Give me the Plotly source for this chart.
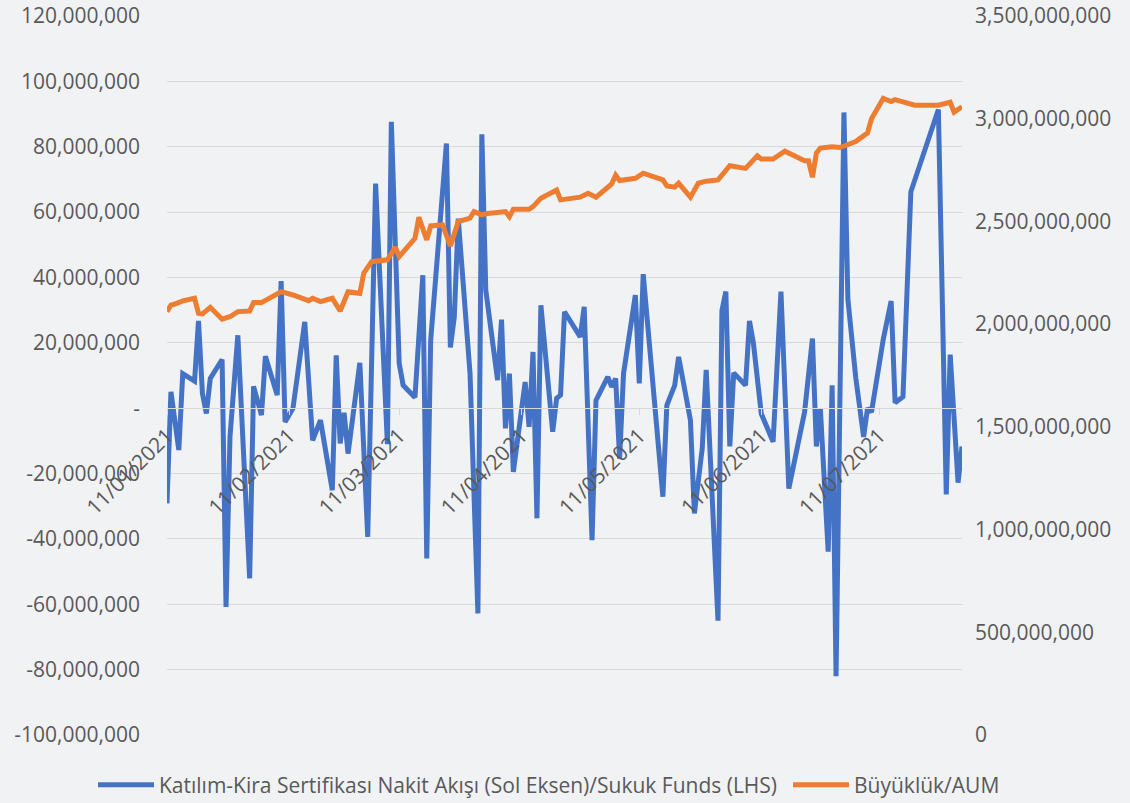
import plotly.graph_objects as go

# daily net flow of participation / sukuk funds (left axis)
flow_dates = [
    '2021-01-11', '2021-01-12', '2021-01-14', '2021-01-15', '2021-01-18', '2021-01-19', '2021-01-20',
    '2021-01-21', '2021-01-22', '2021-01-25', '2021-01-26', '2021-01-27', '2021-01-29',
    '2021-02-01', '2021-02-02', '2021-02-04', '2021-02-05', '2021-02-08', '2021-02-09', '2021-02-10',
    '2021-02-12', '2021-02-15', '2021-02-17', '2021-02-19', '2021-02-22', '2021-02-23', '2021-02-24',
    '2021-02-25', '2021-02-26',
    '2021-03-01', '2021-03-03', '2021-03-05', '2021-03-08', '2021-03-09', '2021-03-11', '2021-03-12',
    '2021-03-15', '2021-03-17', '2021-03-18', '2021-03-19', '2021-03-23', '2021-03-24', '2021-03-25',
    '2021-03-26', '2021-03-29', '2021-03-31',
    '2021-04-01', '2021-04-02', '2021-04-05', '2021-04-06', '2021-04-07', '2021-04-08', '2021-04-09',
    '2021-04-12', '2021-04-13', '2021-04-14', '2021-04-15', '2021-04-16', '2021-04-19', '2021-04-20',
    '2021-04-21', '2021-04-22', '2021-04-26', '2021-04-27', '2021-04-29', '2021-04-30',
    '2021-05-03', '2021-05-04', '2021-05-05', '2021-05-06', '2021-05-07', '2021-05-10', '2021-05-11',
    '2021-05-12', '2021-05-17', '2021-05-18', '2021-05-20', '2021-05-21', '2021-05-24', '2021-05-25',
    '2021-05-27', '2021-05-28', '2021-05-31',
    '2021-06-01', '2021-06-02', '2021-06-03', '2021-06-04', '2021-06-07', '2021-06-08', '2021-06-09',
    '2021-06-11', '2021-06-14', '2021-06-16', '2021-06-18', '2021-06-22', '2021-06-24', '2021-06-25',
    '2021-06-26', '2021-06-28', '2021-06-29', '2021-06-30',
    '2021-07-02', '2021-07-03', '2021-07-05', '2021-07-07', '2021-07-08', '2021-07-09', '2021-07-12',
    '2021-07-14', '2021-07-15', '2021-07-17', '2021-07-19', '2021-07-26', '2021-07-28', '2021-07-29',
    '2021-07-31', '2021-08-01',
]
flow_values = [
    -29.1e6, 5.0e6, -12.8e6, 10.6e6, 8.3e6, 26.7e6, 4.5e6,
    -1.6e6, 9.1e6, 14.9e6, -60.8e6, -8.8e6, 22.3e6,
    -52.1e6, 6.7e6, -2.1e6, 15.9e6, 4.0e6, 38.9e6, -4.2e6,
    -0.1e6, 26.4e6, -9.8e6, -3.7e6, -25.1e6, 16.2e6, -10.8e6,
    -1.4e6, -13.9e6,
    13.9e6, -39.4e6, 68.7e6, -11.0e6, 87.6e6, 13.7e6, 7.0e6,
    3.3e6, 40.7e6, -46.0e6, 20.8e6, 81.0e6, 18.6e6, 27.9e6,
    58.0e6, 10.6e6, -62.8e6,
    83.8e6, 36.1e6, 8.6e6, 27.1e6, -6.2e6, 10.6e6, -19.5e6,
    8.0e6, -5.7e6, 17.2e6, -33.7e6, 31.5e6, -7.2e6, 3.0e6,
    4.0e6, 29.5e6, 21.8e6, 31.0e6, -40.4e6, 2.4e6,
    9.6e6, 6.5e6, 9.1e6, -15.4e6, 10.6e6, 34.6e6, 7.6e6,
    41.0e6, -27.1e6, 0.9e6, 7.0e6, 15.7e6, -3.7e6, -32.2e6,
    -12.3e6, 11.7e6, -65.0e6,
    29.9e6, 35.7e6, -11.7e6, 10.8e6, 7.0e6, 26.7e6, 19.9e6,
    -1.7e6, -10.3e6, 35.7e6, -24.6e6, -1.2e6, 21.3e6, -11.7e6,
    0.0, -43.9e6, 7.0e6, -82.0e6,
    90.5e6, 33.4e6, 9.4e6, -8.8e6, 0.0, -1.2e6, 21.1e6,
    32.8e6, 1.7e6, 3.5e6, 66.2e6, 91.4e6, -26.4e6, 16.4e6,
    -22.8e6, -11.7e6,
]

# fund size / AUM (right axis)
aum_dates = [
    '2021-01-11', '2021-01-12', '2021-01-13', '2021-01-15', '2021-01-18', '2021-01-19', '2021-01-20',
    '2021-01-22', '2021-01-25', '2021-01-27', '2021-01-29',
    '2021-02-01', '2021-02-02', '2021-02-04', '2021-02-09', '2021-02-12', '2021-02-16', '2021-02-17',
    '2021-02-19', '2021-02-22', '2021-02-24', '2021-02-26',
    '2021-03-01', '2021-03-02', '2021-03-04', '2021-03-08', '2021-03-10', '2021-03-11', '2021-03-15',
    '2021-03-16', '2021-03-18', '2021-03-19', '2021-03-22', '2021-03-24', '2021-03-26', '2021-03-29',
    '2021-03-30',
    '2021-04-01', '2021-04-02', '2021-04-07', '2021-04-08', '2021-04-09', '2021-04-13', '2021-04-14',
    '2021-04-16', '2021-04-20', '2021-04-21', '2021-04-23', '2021-04-26', '2021-04-28', '2021-04-30',
    '2021-05-04', '2021-05-05', '2021-05-06', '2021-05-10', '2021-05-12', '2021-05-17', '2021-05-18',
    '2021-05-20', '2021-05-21', '2021-05-24', '2021-05-26', '2021-05-27', '2021-05-28', '2021-05-31',
    '2021-06-03', '2021-06-07', '2021-06-10', '2021-06-11', '2021-06-14', '2021-06-17', '2021-06-18',
    '2021-06-22', '2021-06-23', '2021-06-24', '2021-06-25', '2021-06-26', '2021-06-29',
    '2021-07-01', '2021-07-05', '2021-07-07', '2021-07-08', '2021-07-09', '2021-07-12', '2021-07-14',
    '2021-07-15', '2021-07-20', '2021-07-26', '2021-07-29', '2021-07-30', '2021-08-01',
]
aum_values = [
    2.061e9, 2.093e9, 2.098e9, 2.113e9, 2.126e9, 2.053e9, 2.050e9,
    2.082e9, 2.024e9, 2.036e9, 2.061e9,
    2.064e9, 2.105e9, 2.105e9, 2.158e9, 2.142e9, 2.114e9, 2.126e9,
    2.110e9, 2.126e9, 2.064e9, 2.158e9,
    2.150e9, 2.248e9, 2.304e9, 2.313e9, 2.374e9, 2.329e9, 2.418e9,
    2.520e9, 2.410e9, 2.478e9, 2.483e9, 2.381e9, 2.499e9, 2.516e9,
    2.548e9,
    2.532e9, 2.537e9, 2.548e9, 2.523e9, 2.559e9, 2.559e9, 2.572e9,
    2.613e9, 2.653e9, 2.605e9, 2.608e9, 2.618e9, 2.637e9, 2.618e9,
    2.683e9, 2.725e9, 2.699e9, 2.710e9, 2.735e9, 2.702e9, 2.673e9,
    2.667e9, 2.686e9, 2.618e9, 2.686e9, 2.692e9, 2.696e9, 2.702e9,
    2.771e9, 2.758e9, 2.819e9, 2.804e9, 2.804e9, 2.842e9, 2.833e9,
    2.795e9, 2.795e9, 2.715e9, 2.833e9, 2.857e9, 2.864e9,
    2.860e9, 2.889e9, 2.913e9, 2.931e9, 3.000e9, 3.099e9, 3.084e9,
    3.093e9, 3.066e9, 3.066e9, 3.080e9, 3.032e9, 3.058e9,
]

x_ticks = ['2021-01-11', '2021-02-11', '2021-03-11', '2021-04-11',
           '2021-05-11', '2021-06-11', '2021-07-11']
left_ticks = [-100e6, -80e6, -60e6, -40e6, -20e6, 0, 20e6, 40e6, 60e6, 80e6, 100e6, 120e6]
left_labels = ['{:,.0f}'.format(v) if v else '-' for v in left_ticks]

FONT = 'Open Sans'
GREY = '#595959'
GRID = '#d9d9d9'
W, H = 1130, 803

fig = go.Figure()
fig.add_trace(go.Scatter(
    x=flow_dates, y=flow_values, mode='lines',
    name='Katılım-Kira Sertifikası Nakit Akışı (Sol Eksen)/Sukuk Funds (LHS)',
    line=dict(color='#4472C4', width=5),
    legend='legend',
))
fig.add_trace(go.Scatter(
    x=aum_dates, y=aum_values, mode='lines', yaxis='y2',
    name='Büyüklük/AUM',
    line=dict(color='#ED7D31', width=5),
    legend='legend2',
))

leg = dict(orientation='h', xanchor='left', xref='container',
           y=18 / H, yanchor='middle', yref='container',
           itemwidth=56, font=dict(size=21, color=GREY),
           bgcolor='rgba(0,0,0,0)')

fig.update_layout(
    width=W, height=H,
    margin=dict(l=167, r=168, t=16, b=68, autoexpand=False),
    paper_bgcolor='#f1f2f4', plot_bgcolor='#f1f2f4',
    font=dict(family=FONT, size=21, color=GREY),
    showlegend=True,
    legend=dict(leg, x=93 / W),
    legend2=dict(leg, x=788 / W),
    xaxis=dict(
        type='date', range=[flow_dates[0], flow_dates[-1]],
        tickvals=x_ticks, tickformat='%d/%m/%Y', tickangle=-45,
        showgrid=False, showline=True, linecolor=GRID, linewidth=1,
        ticks='outside', ticklen=6, tickcolor=GRID,
        anchor='free', position=100 / 220,
        tickfont=dict(size=21, color=GREY),
    ),
    yaxis=dict(
        range=[-100e6, 120e6], tickvals=left_ticks, ticktext=left_labels,
        showgrid=True, gridcolor=GRID, gridwidth=1, zeroline=False,
        ticks='', ticklabelstandoff=26,
    ),
    yaxis2=dict(
        range=[0, 3.5e9], dtick=5e8, tickformat=',d', overlaying='y', side='right',
        showgrid=False, zeroline=False, ticks='', ticklabelstandoff=12,
    ),
)

fig.write_html("out.html", config={'displayModeBar': False},
               post_script="document.body.style.margin='0';")
